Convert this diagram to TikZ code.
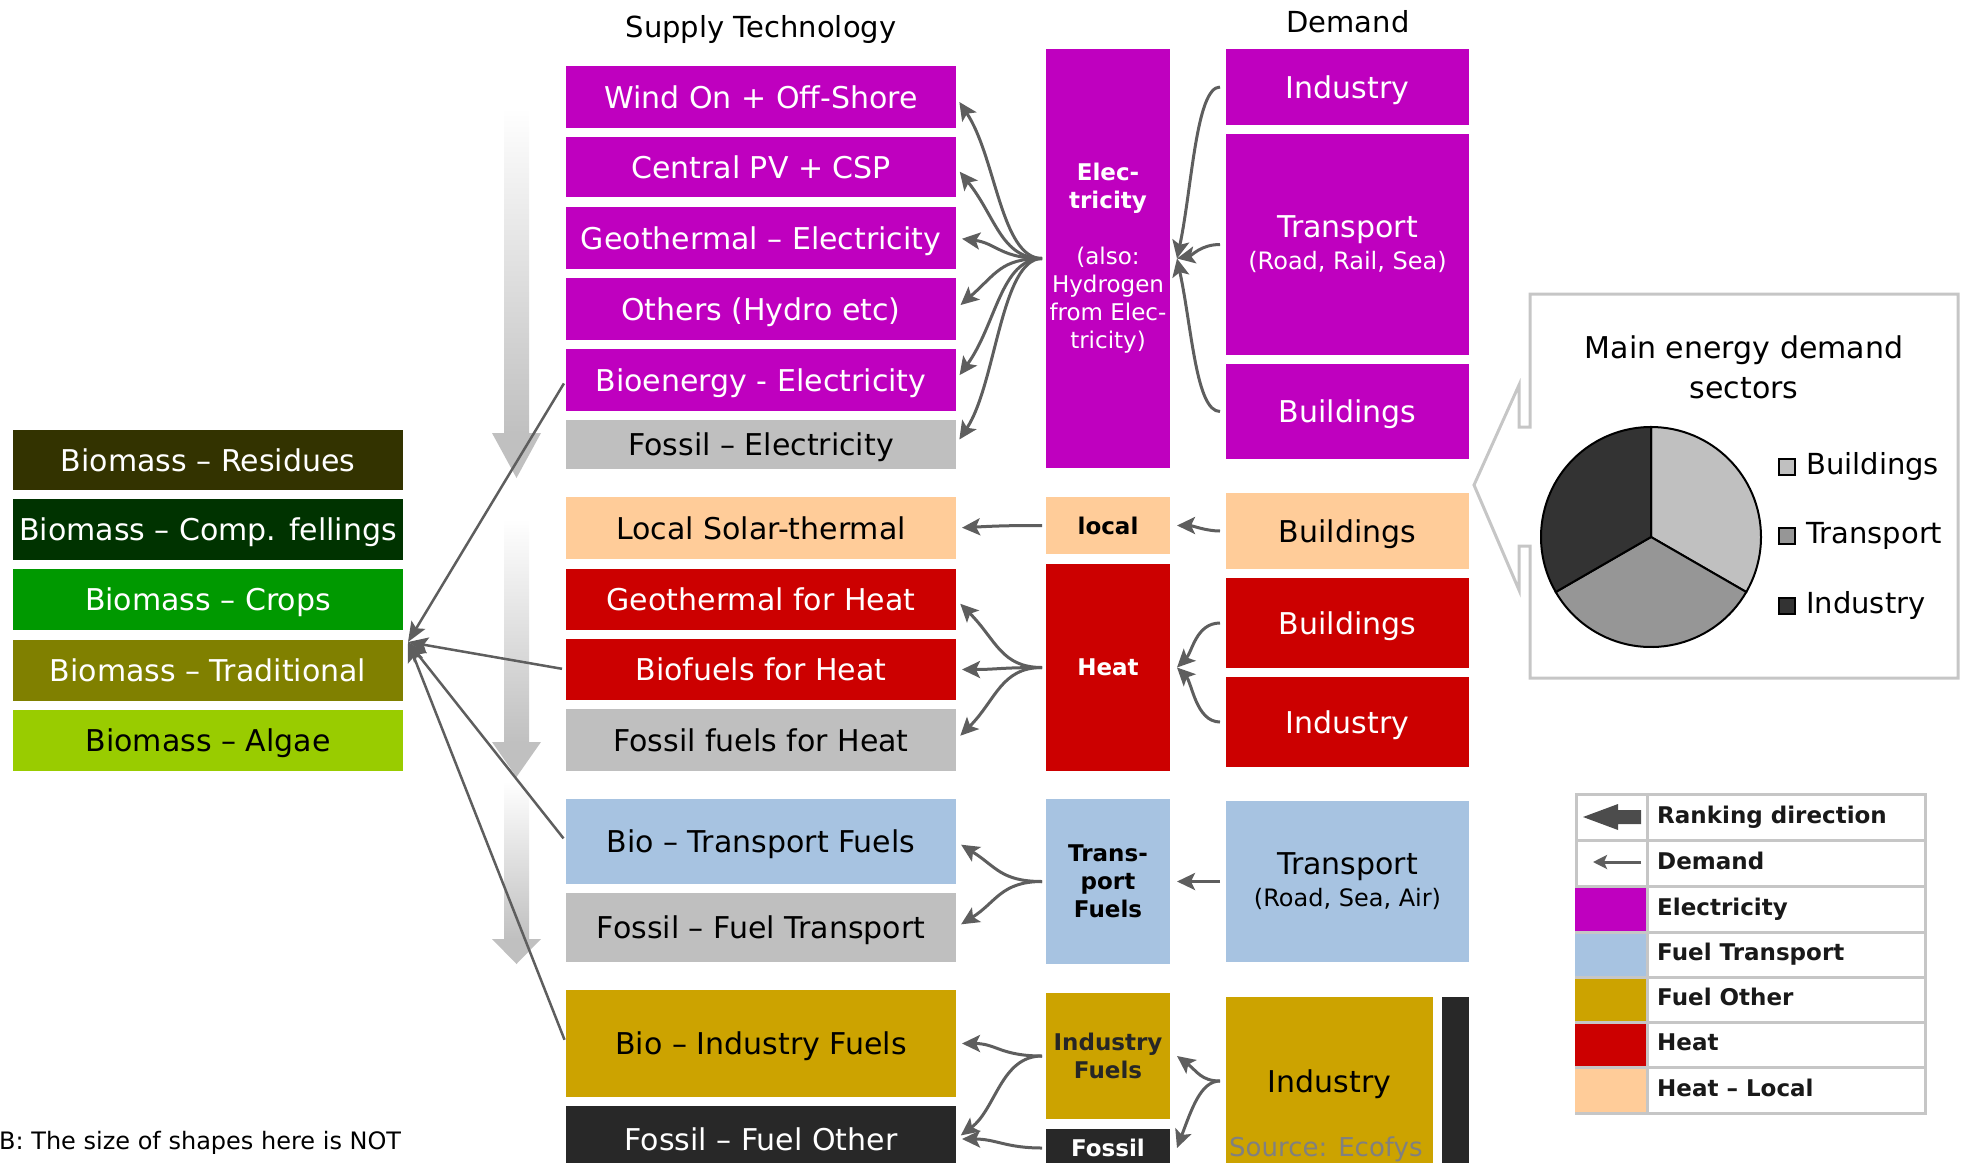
\documentclass[tikz,border=0pt]{standalone}
\usepackage{fontspec}
\setmainfont{DejaVu Sans}
\usetikzlibrary{arrows.meta}

\definecolor{elecmag}{HTML}{BF00BF}
\definecolor{heatred}{HTML}{CC0000}
\definecolor{fossgray}{HTML}{BFBFBF}
\definecolor{peach}{HTML}{FFCC99}
\definecolor{fuelblue}{HTML}{A7C3E1}
\definecolor{fuelgold}{HTML}{CCA300}
\definecolor{fossdark}{HTML}{282828}
\definecolor{resid}{HTML}{333300}
\definecolor{fell}{HTML}{003300}
\definecolor{crop}{HTML}{009900}
\definecolor{tradi}{HTML}{808000}
\definecolor{algae}{HTML}{99CC00}
\definecolor{arrowgray}{HTML}{5E5E5E}
\definecolor{rankgray}{HTML}{C0C0C0}
\definecolor{framegray}{HTML}{C6C6C6}
\definecolor{pieA}{HTML}{C0C0C0}
\definecolor{pieB}{HTML}{969696}
\definecolor{pieC}{HTML}{333333}

\tikzset{
  tile/.style={rectangle, inner sep=0pt, outer sep=0pt, align=center, font=\fontsize{30}{36}\selectfont},
  supply/.style={tile, minimum width=390pt, text height=22pt, text depth=0pt},
  carrier/.style={tile, minimum width=124pt, font=\bfseries\fontsize{23}{28}\selectfont},
  demand/.style={tile, minimum width=243pt, text height=22pt, text depth=0pt},
  multi/.style={text height={}, text depth={}},
  feed/.style={draw=arrowgray, line width=3pt, -{Stealth[length=18pt,width=17pt,inset=4pt]}, shorten <=4pt, shorten >=6pt},
  need/.style={feed, shorten <=6pt, shorten >=0pt},
  bioline/.style={draw=arrowgray, line width=2.5pt, -{Stealth[length=20pt,width=16pt,inset=4pt]}, shorten <=4pt},
  keytext/.style={anchor=west, inner sep=0pt, text=black!90, text height=17pt, text depth=5pt, font=\bfseries\fontsize{23}{28}\selectfont},
  pietext/.style={anchor=west, inner sep=0pt, text height=21pt, text depth=6pt, font=\fontsize{29}{34}\selectfont},
  piekey/.style={draw, line width=1.5pt, minimum size=16pt, inner sep=0pt}
}

\begin{document}
\begin{tikzpicture}[x=1pt,y=-1pt]
	\useasboundingbox (0,0) rectangle (1973,1162);

	% headings
	\node (suphead) at (761,29) [font=\fontsize{29}{34}\selectfont] {Supply Technology};
	\node (demhead) at (1348,22) [font=\fontsize{29}{34}\selectfont] {Demand};

	% biomass
	\node (residues) at (208,460) [supply, fill=resid, text=white, minimum height=60pt] {Biomass – Residues};
	\node (fellings) at (208,529.5) [supply, fill=fell, text=white, minimum height=61pt] {Biomass – Comp. fellings};
	\node (crops) at (208,599.5) [supply, fill=crop, text=white, minimum height=61pt] {Biomass – Crops};
	\node (trad) at (208,670.5) [supply, fill=tradi, text=white, minimum height=61pt] {Biomass – Traditional};
	\node (algae) at (208,740.5) [supply, fill=algae, minimum height=61pt] {Biomass – Algae};

	% supply technologies
	\node (wind) at (761,97) [supply, fill=elecmag, text=white, minimum height=62pt] {Wind On + Off-Shore};
	\node (pv) at (761,167) [supply, fill=elecmag, text=white, minimum height=60pt] {Central PV + CSP};
	\node (geoel) at (761,238) [supply, fill=elecmag, text=white, minimum height=62pt] {Geothermal – Electricity};
	\node (others) at (761,309) [supply, fill=elecmag, text=white, minimum height=62pt] {Others (Hydro etc)};
	\node (bioel) at (761,380) [supply, fill=elecmag, text=white, minimum height=62pt] {Bioenergy - Electricity};
	\node (fosel) at (761,444.5) [supply, fill=fossgray, minimum height=49pt] {Fossil – Electricity};
	\node (solar) at (761,528) [supply, fill=peach, minimum height=62pt] {Local Solar-thermal};
	\node (geoheat) at (761,599.5) [supply, fill=heatred, text=white, minimum height=61pt] {Geothermal for Heat};
	\node (bioheat) at (761,669.5) [supply, fill=heatred, text=white, minimum height=61pt] {Biofuels for Heat};
	\node (fosheat) at (761,740) [supply, fill=fossgray, minimum height=62pt] {Fossil fuels for Heat};
	\node (biotrans) at (761,841.5) [supply, fill=fuelblue, minimum height=85pt] {Bio – Transport Fuels};
	\node (fostrans) at (761,927.5) [supply, fill=fossgray, minimum height=69pt] {Fossil – Fuel Transport};
	\node (bioind) at (761,1043.5) [supply, fill=fuelgold, minimum height=107pt] {Bio – Industry Fuels};
	\node (fosother) at (761,1139) [supply, fill=fossdark, text=white, minimum height=66pt] {Fossil – Fuel Other};

	% carriers
	\node (elec) at (1108,258.5) [carrier, fill=elecmag, text=white, minimum height=419pt] {Elec-\\tricity\\[28pt]{\mdseries(also:}\\{\mdseries Hydrogen}\\{\mdseries from Elec-}\\{\mdseries tricity)}};
	\node (local) at (1108,525.5) [carrier, fill=peach, minimum height=57pt] {local};
	\node (heat) at (1108,667.5) [carrier, fill=heatred, text=white, minimum height=207pt] {Heat};
	\node (tfuels) at (1108,881.5) [carrier, fill=fuelblue, minimum height=165pt] {Trans-\\port\\Fuels};
	\node (ifuels) at (1108,1056) [carrier, fill=fuelgold, text=black!85, minimum height=126pt] {Industry\\Fuels};
	\node (fossil) at (1108,1148) [carrier, fill=fossdark, text=white, minimum height=38pt] {Fossil};

	% demand
	\node (dind) at (1347.5,87) [demand, fill=elecmag, text=white, minimum height=76pt] {Industry};
	\node (dtrans) at (1347.5,244.5) [demand, multi, fill=elecmag, text=white, minimum height=221pt] {Transport\\[-4pt]{\fontsize{24}{28}\selectfont(Road, Rail, Sea)}};
	\node (dbuild) at (1347.5,411.5) [demand, fill=elecmag, text=white, minimum height=95pt] {Buildings};
	\node (lbuild) at (1347.5,531) [demand, fill=peach, minimum height=76pt] {Buildings};
	\node (hbuild) at (1347.5,623) [demand, fill=heatred, text=white, minimum height=90pt] {Buildings};
	\node (hind) at (1347.5,722) [demand, fill=heatred, text=white, minimum height=90pt] {Industry};
	\node (ttrans) at (1347.5,881.5) [demand, multi, fill=fuelblue, minimum height=161pt] {Transport\\[-4pt]{\fontsize{24}{28}\selectfont(Road, Sea, Air)}};
	\node (iind) at (1329.5,1081) [tile, text height=22pt, text depth=0pt, fill=fuelgold, minimum width=207pt, minimum height=168pt] {Industry};
	\node (dbar) at (1455.5,1083) [tile, fill=fossdark, minimum width=27pt, minimum height=172pt] {};
	\node (src) at (1229,1149) [anchor=west, inner sep=0pt, text=black!50, font=\fontsize{26}{30}\selectfont] {Source: Ecofys};

	\node (nb) at (-1,1143) [anchor=west, inner sep=0pt, font=\fontsize{24}{28}\selectfont] {B: The size of shapes here is NOT};

	% ranking arrows
	\foreach \ya/\yb/\yc in {108/433/478, 519/742/777, 781/939/964} {
		\shade[top color=white, bottom color=rankgray] (504,\ya) rectangle (529,\yb);
		\fill[rankgray] (492,\yb) -- (541,\yb) -- (516.5,\yc) -- cycle;
	}

	% biomass links
	\coordinate (hub) at (408,642);
	\draw[bioline] (bioel.west) -- (hub);
	\draw[bioline] (bioheat.west) -- (hub);
	\draw[bioline] (biotrans.west) -- (hub);
	\draw[bioline] (bioind.west) -- (hub);

	% carrier to supply
	\draw[feed] (elec.west) .. controls +(-45,0) and +(40,60) .. (wind.east);
	\draw[feed] (elec.west) .. controls +(-45,0) and +(40,50) .. (pv.east);
	\draw[feed] (elec.west) .. controls +(-45,0) and +(40,5) .. (geoel.east);
	\draw[feed] (elec.west) .. controls +(-45,0) and +(40,-35) .. (others.east);
	\draw[feed] (elec.west) .. controls +(-45,0) and +(40,-55) .. (bioel.east);
	\draw[feed] (elec.west) .. controls +(-45,0) and +(40,-60) .. (fosel.east);
	\draw[feed] (local.west) .. controls +(-40,0) and +(40,-2) .. (solar.east);
	\draw[feed] (heat.west) .. controls +(-45,0) and +(40,40) .. (geoheat.east);
	\draw[feed] (heat.west) .. controls +(-45,0) and +(40,0) .. (bioheat.east);
	\draw[feed] (heat.west) .. controls +(-45,0) and +(40,-40) .. (fosheat.east);
	\draw[feed] (tfuels.west) .. controls +(-45,0) and +(40,25) .. (biotrans.east);
	\draw[feed] (tfuels.west) .. controls +(-45,0) and +(40,-25) .. (fostrans.east);
	\draw[feed] (ifuels.west) .. controls +(-45,0) and +(40,0) .. (bioind.east);
	\draw[feed] (ifuels.west) .. controls +(-45,0) and +(40,-30) .. (fosother.east);
	\draw[feed] (fossil.west) .. controls +(-40,0) and +(40,0) .. (fosother.east);

	% demand to carrier
	\draw[need] (dind.west) .. controls +(-30,0) and +(15,-70) .. ([xshift=7pt]elec.east);
	\draw[need] (dtrans.west) .. controls +(-25,0) and +(15,-3) .. ([xshift=7pt]elec.east);
	\draw[need] (dbuild.west) .. controls +(-30,0) and +(15,70) .. ([xshift=7pt]elec.east);
	\draw[need] (lbuild.west) .. controls +(-20,0) and +(15,0) .. ([xshift=7pt]local.east);
	\draw[need] (hbuild.west) .. controls +(-30,0) and +(15,-15) .. ([xshift=7pt]heat.east);
	\draw[need] (hind.west) .. controls +(-30,0) and +(15,15) .. ([xshift=7pt]heat.east);
	\draw[need] (ttrans.west) -- ([xshift=7pt]tfuels.east);
	\draw[need] (iind.west) .. controls +(-25,0) and +(20,15) .. ([xshift=7pt]ifuels.east);
	\draw[need] (iind.west) .. controls +(-25,0) and +(15,-40) .. ([xshift=7pt]fossil.east);

	% pie callout
	\draw[framegray, line width=3pt] (1530,294) -- (1958,294) -- (1958,678) -- (1530,678) -- (1530,546) -- (1519,546) -- (1519,590) -- (1474,485) -- (1519,385) -- (1519,427) -- (1530,427) -- cycle;
	\node (pietitle) at (1744,367) [align=center, font=\fontsize{30}{40}\selectfont] {Main energy demand\\sectors};
	\coordinate (pie) at (1651,537);
	\filldraw[fill=pieA, line width=2pt] (pie) -- +(90:110pt) arc[start angle=90, end angle=-30, radius=110pt] -- cycle;
	\filldraw[fill=pieB, line width=2pt] (pie) -- +(-30:110pt) arc[start angle=-30, end angle=-150, radius=110pt] -- cycle;
	\filldraw[fill=pieC, line width=2pt] (pie) -- +(210:110pt) arc[start angle=210, end angle=90, radius=110pt] -- cycle;
	\node (pkb) at (1787,467) [piekey, fill=pieA] {};
	\node (pkt) at (1787,536) [piekey, fill=pieB] {};
	\node (pki) at (1787,606) [piekey, fill=pieC] {};
	\node (ptb) at (1806,467) [pietext] {Buildings};
	\node (ptt) at (1806,536) [pietext] {Transport};
	\node (pti) at (1806,606) [pietext] {Industry};

	% key table
	\draw[framegray, line width=3pt] (1576,794) rectangle (1925,1113);
	\draw[framegray, line width=3pt] (1647,794) -- (1647,1113);
	\foreach \y in {840,886,932,977,1022,1067}
		\draw[framegray, line width=3pt] (1576,\y) -- (1925,\y);
	\foreach \ya/\yb/\col in {886/932/elecmag, 932/977/fuelblue, 977/1022/fuelgold, 1022/1067/heatred, 1067/1113/peach}
		\fill[\col] (1575,\ya+1.5) rectangle (1645.5,\yb-1.5);
	\fill[black!70] (1583,817) -- (1618,804) -- (1618,810) -- (1641,810) -- (1641,824) -- (1618,824) -- (1618,830) -- cycle;
	\draw[arrowgray, line width=3pt, -{Stealth[length=14pt,width=14pt,inset=3pt]}] (1641,862) -- (1593,862);
	\node (kr) at (1657,817) [keytext] {Ranking direction};
	\node (kd) at (1657,863) [keytext] {Demand};
	\node (ke) at (1657,909) [keytext] {Electricity};
	\node (kt) at (1657,954.5) [keytext] {Fuel Transport};
	\node (ko) at (1657,999.5) [keytext] {Fuel Other};
	\node (kh) at (1657,1044.5) [keytext] {Heat};
	\node (kl) at (1657,1090) [keytext] {Heat – Local};
\end{tikzpicture}
\end{document}
